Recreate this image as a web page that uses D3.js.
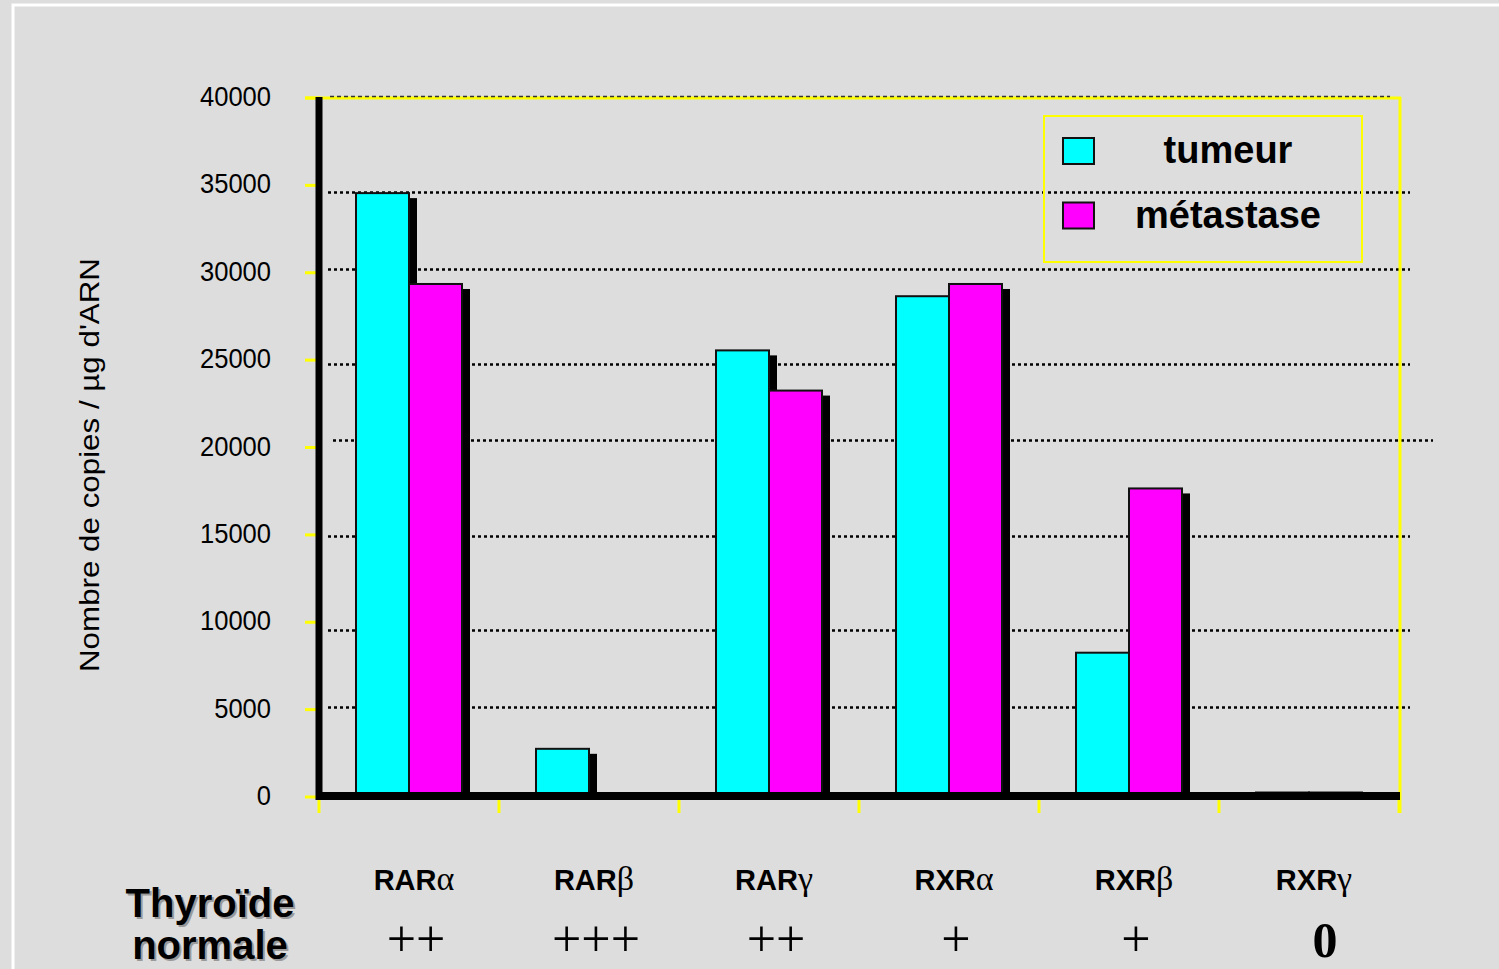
<!DOCTYPE html>
<html>
<head>
<meta charset="utf-8">
<script src="https://cdn.jsdelivr.net/npm/d3@7"></script>
<style>
  html, body { margin: 0; padding: 0; background: #dddddd; overflow: hidden; }
  svg { display: block; }
</style>
</head>
<body>
<svg id="chart" width="1499" height="969"></svg>
<script>
// Receptor categories along the x axis
const categories = ["RARα", "RARβ", "RARγ", "RXRα", "RXRβ", "RXRγ"];
// Series names (legend order)
const series = ["tumeur", "métastase"];
// Copies per µg of RNA for each receptor
const tumeurValues = [34500, 2700, 25500, 28600, 8200, 200];
const metastaseValues = [29300, 0, 23200, 29300, 17600, 200];
// Expression level in normal thyroid, one mark per receptor
const normalLevels = ["++", "+++", "++", "+", "+", "0"];
// Y axis ticks
const yTicks = [0, 5000, 10000, 15000, 20000, 25000, 30000, 35000, 40000];
// Dotted reference lines drawn across the plot
const gridLevels = [34550, 30150, 24700, 20350, 14900, 9500, 5100];

const colors = { "tumeur": "#00ffff", "métastase": "#ff00ff" };
const yellow = "#ffff00";

const svg = d3.select("#chart");

// White frame of the slide panel
svg.append("rect")
  .attr("x", 13).attr("y", 5)
  .attr("width", 1520).attr("height", 1000)
  .attr("fill", "none").attr("stroke", "#ffffff").attr("stroke-width", 3);

const x0 = d3.scaleBand().domain(categories).range([319, 1399]);
const barW = 53;
const x1 = d3.scaleBand().domain(series)
  .range([x0.bandwidth() / 2 - barW, x0.bandwidth() / 2 + barW]);
const y = d3.scaleLinear().domain([0, 40000]).range([796, 97]);

// Dotted grid lines
const grid = svg.append("g");
grid.selectAll("line.grid").data(gridLevels).join("line")
  .attr("class", "grid")
  .attr("x1", d => d === 20350 ? 333 : 328)
  .attr("x2", d => d === 20350 ? 1433 : 1410)
  .attr("y1", d => Math.round(y(d)) + 0.5)
  .attr("y2", d => Math.round(y(d)) + 0.5)
  .attr("stroke", "#000").attr("stroke-width", 2.6)
  .attr("stroke-dasharray", "3,3");

// Yellow top edge with its dotted overlay
svg.append("line")
  .attr("x1", 305).attr("x2", 1401)
  .attr("y1", y(40000) + 1).attr("y2", y(40000) + 1)
  .attr("stroke", yellow).attr("stroke-width", 3);
svg.append("line")
  .attr("x1", 330).attr("x2", 1390)
  .attr("y1", y(40000) - 0.5).attr("y2", y(40000) - 0.5)
  .attr("stroke", "#333").attr("stroke-width", 1.5)
  .attr("stroke-dasharray", "4,3");

// Yellow right edge
svg.append("line")
  .attr("x1", 1400).attr("x2", 1400)
  .attr("y1", y(40000)).attr("y2", 813)
  .attr("stroke", yellow).attr("stroke-width", 3);

// Bars with drop shadows
const rows = categories.map((c, i) => ({
  cat: c,
  vals: [
    { s: "tumeur", v: tumeurValues[i] },
    { s: "métastase", v: metastaseValues[i] }
  ]
}));

const groups = svg.append("g").selectAll("g.cat").data(rows).join("g")
  .attr("class", "cat")
  .attr("transform", d => `translate(${x0(d.cat)},0)`);

groups.each(function (d) {
  const g = d3.select(this);
  d.vals.filter(e => e.v > 0).forEach(e => {
    const h = y(0) - y(e.v);
    g.append("rect")
      .attr("x", x1(e.s) + 8)
      .attr("y", y(e.v) + 5)
      .attr("width", x1.bandwidth())
      .attr("height", Math.max(0, h - 5))
      .attr("fill", "#000");
    g.append("rect")
      .attr("x", x1(e.s))
      .attr("y", y(e.v))
      .attr("width", x1.bandwidth())
      .attr("height", h)
      .attr("fill", colors[e.s])
      .attr("stroke", "#111").attr("stroke-width", 2);
  });
});

// Y axis tick marks and labels
svg.append("g").selectAll("line").data(yTicks).join("line")
  .attr("x1", 305).attr("x2", 320)
  .attr("y1", d => y(d) + 1).attr("y2", d => y(d) + 1)
  .attr("stroke", yellow).attr("stroke-width", 3);

svg.append("g").selectAll("text").data(yTicks).join("text")
  .attr("x", 271)
  .attr("y", d => y(d) + 9)
  .attr("text-anchor", "end")
  .attr("font-family", "Arial, 'Liberation Sans', sans-serif")
  .attr("font-size", 28)
  .attr("textLength", d => String(d).length * 14.2)
  .attr("lengthAdjust", "spacingAndGlyphs")
  .attr("fill", "#000")
  .text(d => d);

// X axis category boundary ticks
const bounds = categories.map(c => x0(c)).concat([x0.range()[1]]);
svg.append("g").selectAll("line").data(bounds).join("line")
  .attr("x1", d => d).attr("x2", d => d)
  .attr("y1", 797).attr("y2", 813)
  .attr("stroke", yellow).attr("stroke-width", 3);

// Thick black axes
svg.append("line")
  .attr("x1", 319).attr("x2", 319)
  .attr("y1", y(40000)).attr("y2", 800)
  .attr("stroke", "#000").attr("stroke-width", 7);
svg.append("line")
  .attr("x1", 316).attr("x2", 1400)
  .attr("y1", y(0)).attr("y2", y(0))
  .attr("stroke", "#000").attr("stroke-width", 8);

// Y axis title
svg.append("text")
  .attr("transform", "translate(99,465) rotate(-90)")
  .attr("text-anchor", "middle")
  .attr("font-family", "Arial, 'Liberation Sans', sans-serif")
  .attr("font-size", 27)
  .attr("textLength", 414)
  .attr("lengthAdjust", "spacingAndGlyphs")
  .attr("fill", "#000")
  .text("Nombre de copies / µg d'ARN");

// Legend
const legend = svg.append("g");
legend.append("rect")
  .attr("x", 1044).attr("y", 116).attr("width", 318).attr("height", 146)
  .attr("fill", "none").attr("stroke", yellow).attr("stroke-width", 2);
const legendRows = legend.selectAll("g").data(series).join("g")
  .attr("transform", (d, i) => `translate(0,${i * 64.5})`);
legendRows.append("rect")
  .attr("x", 1063).attr("y", 138).attr("width", 31).attr("height", 26)
  .attr("fill", d => colors[d]).attr("stroke", "#111").attr("stroke-width", 2);
legendRows.append("text")
  .attr("x", 1228).attr("y", 163)
  .attr("text-anchor", "middle")
  .attr("font-family", "Arial, 'Liberation Sans', sans-serif")
  .attr("font-weight", "bold")
  .attr("font-size", 38)
  .attr("fill", "#000")
  .text(d => d);

// Category labels (Latin part in sans, Greek letter in serif)
const labelOffset = 5;
const catText = svg.append("g").selectAll("text").data(categories).join("text")
  .attr("x", d => x0(d) + x0.bandwidth() / 2 + labelOffset)
  .attr("y", 890)
  .attr("text-anchor", "middle")
  .attr("font-family", "Arial, 'Liberation Sans', sans-serif")
  .attr("font-weight", "bold")
  .attr("font-size", 29)
  .attr("fill", "#000");
catText.append("tspan").text(d => d.slice(0, 3));
catText.append("tspan")
  .attr("font-family", "'Liberation Serif', 'Times New Roman', serif")
  .attr("font-weight", "normal")
  .attr("font-size", 34)
  .text(d => d.slice(3));

// Normal thyroid expression row
svg.append("g").selectAll("text").data(normalLevels).join("text")
  .attr("x", (d, i) => x0(categories[i]) + x0.bandwidth() / 2 + (d === "0" ? 16 : 7))
  .attr("y", d => d === "0" ? 957 : 956)
  .attr("text-anchor", "middle")
  .attr("font-family", "'Liberation Serif', 'Times New Roman', serif")
  .attr("font-weight", d => d === "0" ? "bold" : "normal")
  .attr("font-size", d => d === "0" ? 50 : 52)
  .attr("fill", "#000")
  .text(d => d);

// Row heading
const heading = svg.append("g")
  .attr("font-family", "Arial, 'Liberation Sans', sans-serif")
  .attr("font-weight", "bold")
  .attr("font-size", 40)
  .attr("text-anchor", "middle");
[["Thyroïde", 917], ["normale", 959]].forEach(([t, by]) => {
  heading.append("text").attr("x", 212).attr("y", by + 2)
    .attr("fill", "#9a9a9a").text(t);
  heading.append("text").attr("x", 210).attr("y", by)
    .attr("fill", "#000").text(t);
});
</script>
</body>
</html>
